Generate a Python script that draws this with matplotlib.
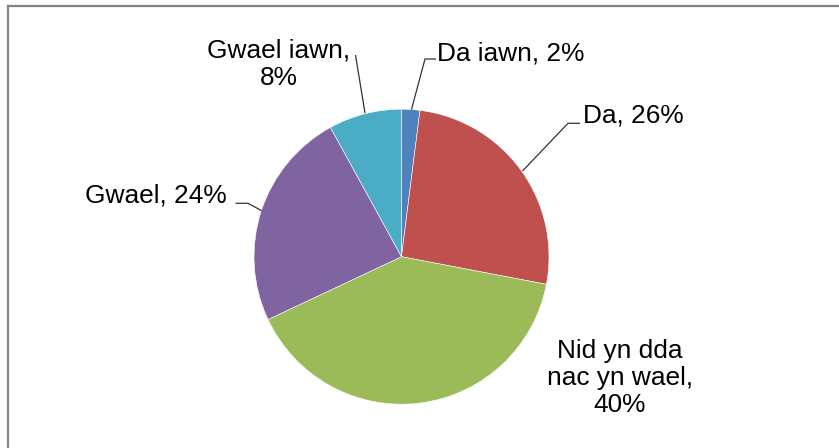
import matplotlib
matplotlib.use("Agg")
import matplotlib.pyplot as plt

categories = ["Da iawn", "Da", "Nid yn dda\nnac yn wael", "Gwael", "Gwael iawn"]
values = [2, 26, 40, 24, 8]
colors = ["#4F81BD", "#C0504D", "#9BBB59", "#8064A2", "#4BACC6"]

plt.rcParams['font.family'] = ['Liberation Sans', 'DejaVu Sans']

W, H = 839, 448
fig = plt.figure(figsize=(W / 100, H / 100), dpi=100)
ax = fig.add_axes([0, 0, 1, 1])

# pie in pixel coordinates (y axis points down, so angles run the other way)
ax.pie(values, colors=colors, center=(401.5, 256.7), radius=147.5,
       startangle=-90, counterclock=True, frame=True,
       wedgeprops=dict(linewidth=0.4, edgecolor='white'))
ax.set_xlim(0, W)
ax.set_ylim(H, 0)
ax.axis('off')

fs = 18.9
labels = [f"{c}, {v}%" for c, v in zip(categories, values)]
labels[2] = "Nid yn dda\nnac yn wael,\n40%"
labels[4] = "Gwael iawn,\n8%"

# label positions: (x, baseline of last line, ha)
pos = [(437, 61, 'left'), (583, 123, 'left'), (620, 412, 'center'),
       (227, 203, 'right'), (278.5, 85, 'center')]
for lab, (x, y, ha) in zip(labels, pos):
    ax.text(x, y, lab, fontsize=fs, ha=ha, va='baseline',
            multialignment='center', linespacing=1.17, color='black')

# leader lines
leaders = [
    [(411.5, 109.5), (425, 59), (436, 59)],
    [(522.5, 171), (568, 123.3), (580, 123.3)],
    [(261.7, 210.7), (248, 203.3), (235.5, 203.3)],
    [(365, 113), (355.5, 55)],
]
for pts in leaders:
    xs, ys = zip(*pts)
    ax.plot(xs, ys, color='#333333', lw=0.9, solid_capstyle='butt')

# chart area border (left and top visible)
ax.plot([8, 8], [6, H + 5], color='#848484', lw=1.6, clip_on=False)
ax.plot([8, W + 5], [6, 6], color='#848484', lw=1.6, clip_on=False)

fig.savefig("out.png", dpi=100, facecolor='white')
